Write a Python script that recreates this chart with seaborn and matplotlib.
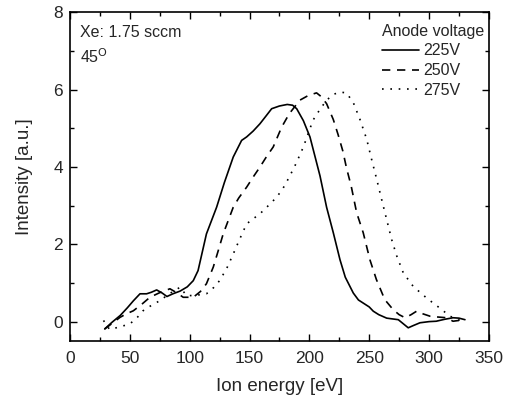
import pandas as pd
import numpy as np
import matplotlib.pyplot as plt
import seaborn as sns
from matplotlib.ticker import MultipleLocator

# Veriler
e_225 = [29, 35, 42, 48, 53, 58.5, 64, 68, 72.4, 77, 81, 86, 92, 98, 103, 107, 114, 122.5, 129,
         136.4, 143.4, 147.6, 153, 158.7, 164, 168.5, 175, 181.5, 186, 189.4, 195, 200.5, 208.9,
         214.4, 220, 225.6, 230, 236.7, 241, 245, 250, 253.4, 258, 264.6, 274.3, 282.6, 287,
         292.4, 300, 306, 313, 320, 325, 330]
i_225 = [-0.19, -0.02, 0.16, 0.36, 0.54, 0.72, 0.72, 0.76, 0.82, 0.74, 0.65, 0.72, 0.79, 0.9,
         1.06, 1.32, 2.27, 2.96, 3.6, 4.26, 4.69, 4.78, 4.93, 5.12, 5.33, 5.51, 5.58, 5.62, 5.6,
         5.51, 5.2, 4.78, 3.77, 2.96, 2.3, 1.6, 1.15, 0.74, 0.56, 0.48, 0.38, 0.27, 0.18, 0.09,
         0.05, -0.16, -0.1, -0.03, 0.0, 0.01, 0.06, 0.1, 0.09, 0.05]

e_250 = [29, 35, 41.8, 47, 52.9, 60, 66.8, 75, 83.5, 89, 94.6, 103, 109, 114, 119.7, 124, 128,
         136.4, 141, 147.6, 153, 158.7, 164, 169.8, 176.8, 183.2, 192, 199, 206, 210, 214.4, 220,
         224, 228, 231, 235, 239.5, 245, 250.6, 256, 263, 270, 275, 280, 285, 289.6, 295, 300.8,
         307, 314.7, 320, 325]
i_250 = [-0.19, -0.05, 0.11, 0.2, 0.28, 0.45, 0.63, 0.75, 0.85, 0.75, 0.63, 0.63, 0.78, 0.98,
         1.41, 1.85, 2.27, 2.96, 3.2, 3.48, 3.74, 4.0, 4.26, 4.52, 5.03, 5.38, 5.73, 5.85, 5.92,
         5.82, 5.64, 5.23, 4.84, 4.41, 3.98, 3.5, 2.82, 2.3, 1.6, 1.09, 0.57, 0.31, 0.18, 0.1,
         0.18, 0.27, 0.2, 0.14, 0.12, 0.1, 0.01, 0.03]

e_275 = [28, 33, 40, 50, 56, 61, 68, 75, 83, 92, 97.5, 105, 114, 120, 125, 131, 136.4, 142,
         147.6, 153, 158.7, 165, 172.7, 178, 183.2, 189, 195, 203, 209, 214.4, 220, 225.6, 231,
         236.7, 242.3, 247.9, 252, 256.3, 260.4, 264.6, 268.8, 273, 278.5, 286.8, 298, 309,
         317.5, 326, 330]
i_275 = [0.03, -0.2, -0.15, -0.06, 0.1, 0.28, 0.42, 0.54, 0.72, 0.89, 0.67, 0.68, 0.72, 0.88,
         1.06, 1.38, 1.75, 2.15, 2.53, 2.66, 2.79, 2.98, 3.22, 3.45, 3.74, 4.1, 4.52, 5.21, 5.5,
         5.73, 5.88, 5.94, 5.92, 5.67, 5.23, 4.72, 4.2, 3.68, 3.16, 2.64, 2.12, 1.7, 1.26, 0.91,
         0.61, 0.35, 0.14, 0.03, 0.02]

voltages = ["225V", "250V", "275V"]
series = [(e_225, i_225), (e_250, i_250), (e_275, i_275)]
styles = ["-", (0, (5, 4)), (0, (1, 4))]

sns.set_style("ticks")
plt.rcParams["font.family"] = ["Liberation Sans", "DejaVu Sans"]

fig = plt.figure(figsize=(5.09, 4.03), dpi=100)
ax = fig.add_axes([0.1375, 0.154, 0.823, 0.815])

for (x, y), v, ls in zip(series, voltages, styles):
    sns.lineplot(x=x, y=y, ax=ax, sort=False, color="black", lw=1.2,
                 linestyle=ls, label=v)

ax.set_xlim(0, 350)
ax.set_ylim(-0.5, 8)
ax.xaxis.set_major_locator(MultipleLocator(50))
ax.xaxis.set_minor_locator(MultipleLocator(25))
ax.yaxis.set_major_locator(MultipleLocator(2))
ax.yaxis.set_minor_locator(MultipleLocator(1))
ax.tick_params(which="both", direction="in", top=True, right=True, labelsize=12.5,
               width=1, color="black")
ax.tick_params(which="major", length=5)
ax.tick_params(which="minor", length=3)
ax.tick_params(axis="x", pad=7)
ax.tick_params(axis="y", pad=5)
for s in ax.spines.values():
    s.set_linewidth(1.2)
    s.set_color("black")

ax.set_xlabel("Ion energy [eV]", fontsize=13.5, labelpad=9)
ax.set_ylabel("Intensity [a.u.]", fontsize=13.5, labelpad=15)

ax.text(0.025, 0.962, "Xe: 1.75 sccm", transform=ax.transAxes, fontsize=11.5, va="top")
ax.text(0.025, 0.895, "45$^{\\mathrm{O}}$", transform=ax.transAxes, fontsize=11.5, va="top")

leg = ax.legend(title="Anode voltage", loc="upper right", bbox_to_anchor=(1.006, 0.988),
                frameon=False, fontsize=11.5, title_fontsize=11.5, handlelength=2.3,
                handletextpad=0.3, labelspacing=0.3, borderaxespad=0.25, borderpad=0.2)
leg._legend_box.align = "left"

plt.savefig("out.png", dpi=100)
